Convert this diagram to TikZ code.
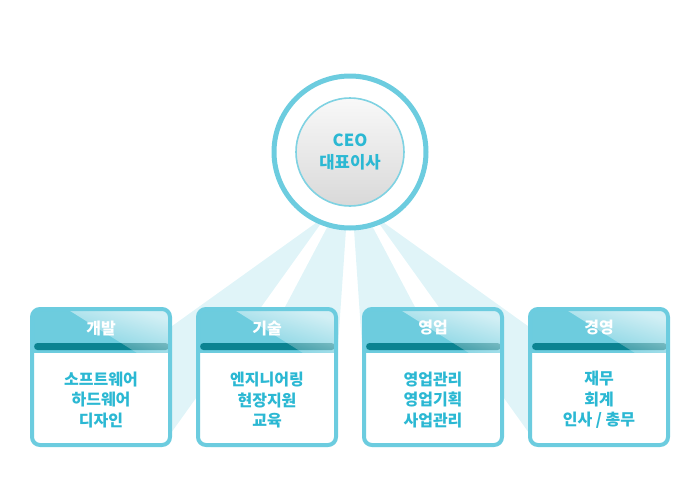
\documentclass[tikz,border=0pt]{standalone}
\usepackage{fontspec}
\newfontfamily\kr{Noto Sans CJK KR}
\usetikzlibrary{positioning, calc, backgrounds, fadings}

\definecolor{ringcyan}{HTML}{6CCCDF}
\definecolor{hdrcyan}{HTML}{6DCCDE}
\definecolor{barteal}{HTML}{0B8391}
\definecolor{txtcyan}{HTML}{2BB8D3}
\definecolor{beamcyan}{HTML}{E0F4F8}
\definecolor{ceoedge}{HTML}{7FD2E2}

\tikzfading[name=glossfade, left color=transparent!88, right color=transparent!30]

\begin{document}
\begin{tikzpicture}[
    x=0.75pt, y=-0.75pt,
    node distance=18pt,
    ring/.style={circle, draw=ringcyan, line width=3.75pt, fill=white, minimum size=114pt},
    ceoball/.style={circle, draw=ceoedge, line width=1.2pt, top color=gray!5, bottom color=gray!30, minimum size=81pt, text=txtcyan, align=center, font=\kr\bfseries\fontsize{12.5pt}{16.5pt}\selectfont},
    dept/.style={rectangle, draw=ringcyan, line width=3pt, rounded corners=6pt, fill=white, minimum width=103.5pt, minimum height=102pt,
        path picture={
            \fill[hdrcyan, sharp corners] (path picture bounding box.north west) rectangle ($(path picture bounding box.north east)+(0,44)$);
            \fill[barteal, rounded corners=2.6pt] ($(path picture bounding box.north west)+(2,34)$) rectangle ($(path picture bounding box.north east)+(-1,41)$);
            \fill[white, sharp corners, path fading=glossfade, fading angle=55] ($(path picture bounding box.north west)+(35,0)$) -- (path picture bounding box.north east) -- ($(path picture bounding box.north east)+(0,44)$) -- ($(path picture bounding box.north west)+(105,44)$) -- cycle;
        }},
    head/.style={text=white, font=\kr\bfseries\fontsize{12pt}{14pt}\selectfont},
    items/.style={text=txtcyan, align=center, font=\kr\bfseries\fontsize{12pt}{15.4pt}\selectfont},
    beam/.style={fill=beamcyan},
]
    \useasboundingbox (0,0) rectangle (700,500);

    \node[ring] (ring) at (350,152) {};
    \node[ceoball] (ceo) at (ring.center) {CEO\\대표이사};

    \node[dept] (dev) at (101,377) {};
    \node[dept, right=of dev] (tech) {};
    \node[dept, right=of tech] (sales) {};
    \node[dept, right=of sales] (mgmt) {};

    \node[head] (devhead) at ($(dev.north)+(0,21)$) {개발};
    \node[head] (techhead) at ($(tech.north)+(0,21)$) {기술};
    \node[head] (saleshead) at ($(sales.north)+(0,21)$) {영업};
    \node[head] (mgmthead) at ($(mgmt.north)+(0,21)$) {경영};

    \node[items] (devitems) at ($(dev.center)+(0,23)$) {소프트웨어\\하드웨어\\디자인};
    \node[items] (techitems) at ($(tech.center)+(0,23)$) {엔지니어링\\현장지원\\교육};
    \node[items] (salesitems) at ($(sales.center)+(0,23)$) {영업관리\\영업기획\\사업관리};
    \node[items] (mgmtitems) at ($(mgmt.center)+(0,23)$) {재무\\회계\\인사 / 총무};

    % light beams from the CEO to each department
    \begin{scope}[on background layer]
        \fill[beam] ($(ceo.center)+(-23,63)$) -- (dev.center) -- ($(dev.south east)+(-11,0)$) -- cycle;
        \fill[beam] ($(ceo.center)+(-1,34)$) -- ($(tech.south)+(-56,0)$) -- ($(tech.south)+(64,0)$) -- cycle;
        \fill[beam] ($(ceo.center)+(1,34)$) -- ($(sales.south)+(-64,0)$) -- ($(sales.south)+(56,0)$) -- cycle;
        \fill[beam] ($(ceo.center)+(23,63)$) -- (mgmt.center) -- ($(mgmt.south west)+(11,0)$) -- cycle;
    \end{scope}
\end{tikzpicture}
\end{document}
